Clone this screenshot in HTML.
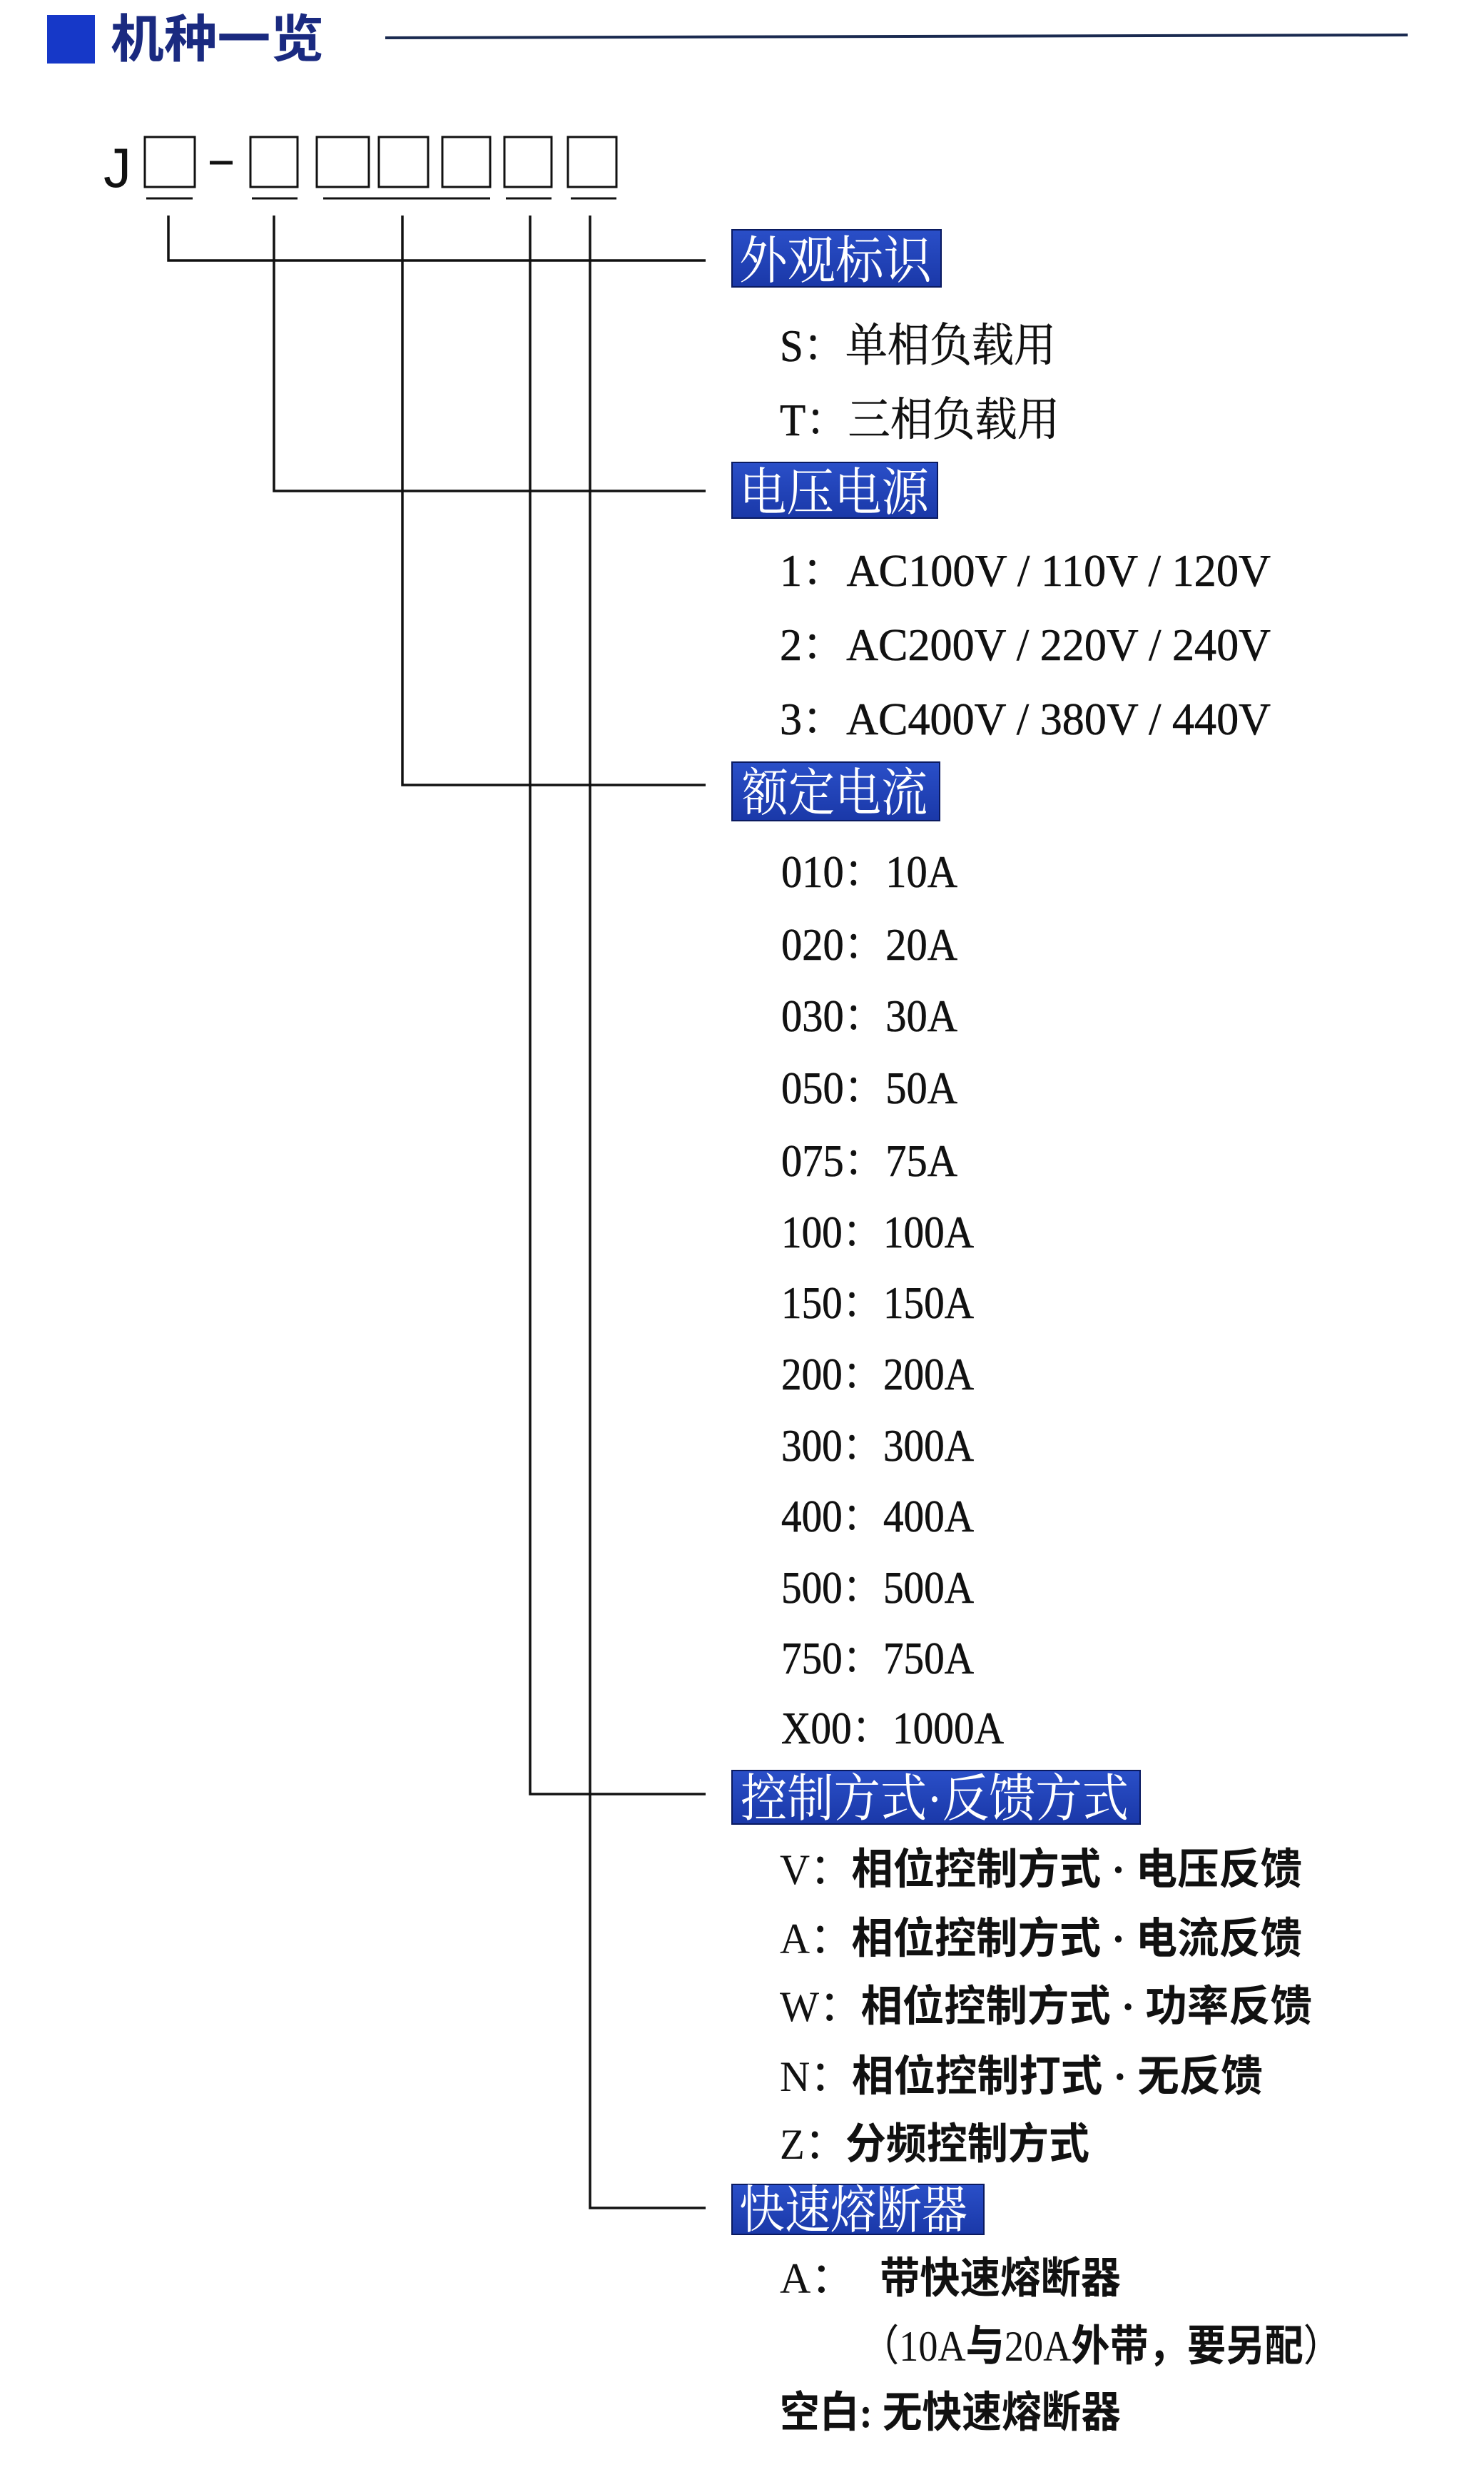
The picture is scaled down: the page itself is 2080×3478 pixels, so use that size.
<!DOCTYPE html>
<html><head><meta charset="utf-8"><style>
html,body{margin:0;padding:0;background:#fff;}
svg{display:block}
.it{font-family:"Liberation Serif","Noto Serif CJK SC",serif;font-size:64px;fill:#111;stroke:#111;stroke-width:0.6;}
.ib{font-family:"Liberation Serif","Noto Sans CJK SC",sans-serif;font-size:60px;fill:#111;}
.ib tspan.c{font-weight:bold;}
.lb{font-family:"Liberation Serif","Noto Serif CJK SC",serif;font-size:72px;fill:#fff;}
</style></head><body>
<svg width="2080" height="3478" viewBox="0 0 2080 3478" xmlns="http://www.w3.org/2000/svg">
<defs><linearGradient id="g" x1="0" y1="0" x2="0" y2="1"><stop offset="0" stop-color="#2a4fc8"/><stop offset="1" stop-color="#1a38a8"/></linearGradient></defs>
<rect x="66" y="21" width="67" height="68" fill="#1638c8"/>
<text x="155" y="80" font-family="Liberation Sans,'Noto Sans CJK SC',sans-serif" font-size="72" font-weight="bold" fill="#1a2a80" textLength="299" lengthAdjust="spacingAndGlyphs">机种一览</text>
<line x1="540" y1="53" x2="1973" y2="49" stroke="#1a2a50" stroke-width="4"/>
<text x="145" y="262" font-family="Liberation Sans,sans-serif" font-size="78" fill="#111">J</text>
<g fill="none" stroke="#111" stroke-width="3">
<rect x="203" y="192" width="70" height="70"/>
<line x1="294" y1="228" x2="326" y2="228" stroke-width="5"/>
<rect x="351" y="192" width="66" height="70"/>
<rect x="444" y="192" width="73" height="70"/>
<rect x="531" y="192" width="69" height="70"/>
<rect x="620" y="192" width="67" height="70"/>
<rect x="707" y="192" width="66" height="70"/>
<rect x="796" y="192" width="68" height="70"/>
<line x1="205" y1="278" x2="270" y2="278"/>
<line x1="353" y1="278" x2="417" y2="278"/>
<line x1="453" y1="278" x2="687" y2="278"/>
<line x1="709" y1="278" x2="773" y2="278"/>
<line x1="800" y1="278" x2="864" y2="278"/>
</g>
<g fill="none" stroke="#111" stroke-width="3.5">
<polyline points="236,302 236,365 989,365"/>
<polyline points="384,302 384,688 989,688"/>
<polyline points="564,302 564,1100 989,1100"/>
<polyline points="743,302 743,2514 989,2514"/>
<polyline points="827,302 827,3094 989,3094"/>
</g>
<g>
<rect x="1026" y="322" width="293" height="80" fill="url(#g)" stroke="#0a1a60" stroke-width="2"/>
<text class="lb" x="1036" y="390" textLength="270" lengthAdjust="spacingAndGlyphs">外观标识</text>
<rect x="1026" y="648" width="288" height="78" fill="url(#g)" stroke="#0a1a60" stroke-width="2"/>
<text class="lb" x="1036" y="715" textLength="266" lengthAdjust="spacingAndGlyphs">电压电源</text>
<rect x="1026" y="1068" width="291" height="82" fill="url(#g)" stroke="#0a1a60" stroke-width="2"/>
<text class="lb" x="1040" y="1136" textLength="260" lengthAdjust="spacingAndGlyphs">额定电流</text>
<rect x="1026" y="2481" width="572" height="75" fill="url(#g)" stroke="#0a1a60" stroke-width="2"/>
<text class="lb" x="1038" y="2545" textLength="544" lengthAdjust="spacingAndGlyphs">控制方式·反馈方式</text>
<rect x="1026" y="3061" width="353" height="70" fill="url(#g)" stroke="#0a1a60" stroke-width="2"/>
<text class="lb" x="1036" y="3122" textLength="320" lengthAdjust="spacingAndGlyphs">快速熔断器</text>
</g>
<g class="it">
<text x="1093" y="506" textLength="387" lengthAdjust="spacingAndGlyphs">S：单相负载用</text>
<text x="1093" y="610" textLength="392" lengthAdjust="spacingAndGlyphs">T：三相负载用</text>
<text x="1093" y="821" textLength="688" lengthAdjust="spacingAndGlyphs">1：AC100V / 110V / 120V</text>
<text x="1093" y="925" textLength="688" lengthAdjust="spacingAndGlyphs">2：AC200V / 220V / 240V</text>
<text x="1093" y="1029" textLength="688" lengthAdjust="spacingAndGlyphs">3：AC400V / 380V / 440V</text>
<text x="1095" y="1243" textLength="247" lengthAdjust="spacingAndGlyphs">010：10A</text>
<text x="1095" y="1345" textLength="247" lengthAdjust="spacingAndGlyphs">020：20A</text>
<text x="1095" y="1445" textLength="247" lengthAdjust="spacingAndGlyphs">030：30A</text>
<text x="1095" y="1546" textLength="247" lengthAdjust="spacingAndGlyphs">050：50A</text>
<text x="1095" y="1648" textLength="247" lengthAdjust="spacingAndGlyphs">075：75A</text>
<text x="1095" y="1748" textLength="270" lengthAdjust="spacingAndGlyphs">100：100A</text>
<text x="1095" y="1847" textLength="270" lengthAdjust="spacingAndGlyphs">150：150A</text>
<text x="1095" y="1947" textLength="270" lengthAdjust="spacingAndGlyphs">200：200A</text>
<text x="1095" y="2047" textLength="270" lengthAdjust="spacingAndGlyphs">300：300A</text>
<text x="1095" y="2146" textLength="270" lengthAdjust="spacingAndGlyphs">400：400A</text>
<text x="1095" y="2246" textLength="270" lengthAdjust="spacingAndGlyphs">500：500A</text>
<text x="1095" y="2345" textLength="270" lengthAdjust="spacingAndGlyphs">750：750A</text>
<text x="1095" y="2443" textLength="312" lengthAdjust="spacingAndGlyphs">X00：1000A</text>
</g>
<g class="ib">
<text x="1093" y="2640" textLength="732" lengthAdjust="spacingAndGlyphs">V：<tspan class="c">相位控制方式 · 电压反馈</tspan></text>
<text x="1093" y="2737" textLength="732" lengthAdjust="spacingAndGlyphs">A：<tspan class="c">相位控制方式 · 电流反馈</tspan></text>
<text x="1093" y="2832" textLength="746" lengthAdjust="spacingAndGlyphs">W：<tspan class="c">相位控制方式 · 功率反馈</tspan></text>
<text x="1093" y="2930" textLength="677" lengthAdjust="spacingAndGlyphs">N：<tspan class="c">相位控制打式 · 无反馈</tspan></text>
<text x="1093" y="3025" textLength="434" lengthAdjust="spacingAndGlyphs">Z：<tspan class="c">分频控制方式</tspan></text>
<text x="1093" y="3213">A：</text>
<text x="1233" y="3213" textLength="338" lengthAdjust="spacingAndGlyphs"><tspan class="c">带快速熔断器</tspan></text>
<text x="1206" y="3308" textLength="675" lengthAdjust="spacingAndGlyphs">（10A<tspan class="c">与</tspan>20A<tspan class="c">外带，要另配</tspan>）</text>
<text x="1093" y="3401" textLength="478" lengthAdjust="spacingAndGlyphs"><tspan class="c">空白: 无快速熔断器</tspan></text>
</g>
</svg>
</body></html>
